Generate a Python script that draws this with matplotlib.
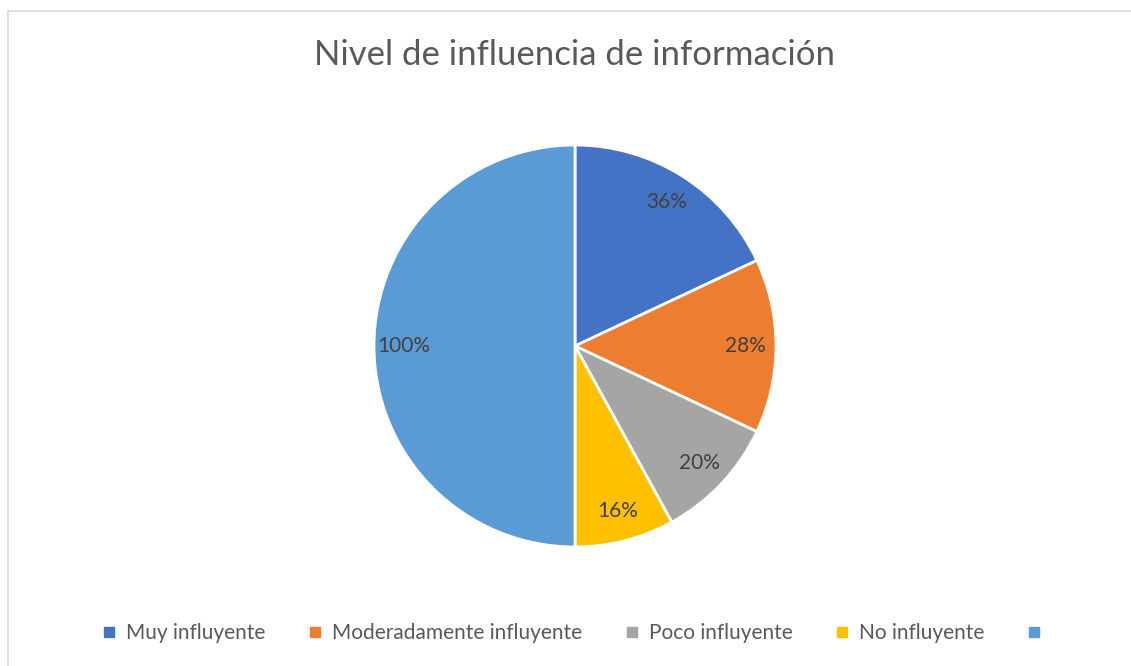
import matplotlib
matplotlib.use("Agg")
import matplotlib.pyplot as plt
from matplotlib.lines import Line2D
from matplotlib.patches import Rectangle

categories = ["Muy influyente", "Moderadamente influyente", "Poco influyente", "No influyente", ""]
values = [36, 28, 20, 16, 100]
labels = ["36%", "28%", "20%", "16%", "100%"]
colors = ["#4472C4", "#ED7D31", "#A5A5A5", "#FFC000", "#5B9BD5"]

plt.rcParams['font.family'] = ['Lato', 'DejaVu Sans']

W, H = 1131, 666
fig = plt.figure(figsize=(W/100, H/100), dpi=100)
fig.patches.append(Rectangle((8/W, -0.1), 1.2, 1 - 11/H + 0.1, transform=fig.transFigure,
                             fill=False, edgecolor="#D9D9D9", linewidth=1.2))

cx, cy, r = 575, 346, 201
ax = fig.add_axes([(cx - r)/W, (H - cy - r)/H, 2*r/W, 2*r/H])
idx = iter(range(len(values)))
wedges, texts, autotexts = ax.pie(values, colors=colors, startangle=90, counterclock=False,
                                  autopct=lambda p: labels[next(idx)], pctdistance=0.85,
                                  wedgeprops=dict(edgecolor="white", linewidth=2),
                                  textprops=dict(color="#404040", fontsize=15))
ax.set_aspect('equal')
ax.set_xlim(-1, 1); ax.set_ylim(-1, 1)

fig.text(575/W, 1 - 55/H, "Nivel de influencia de información", ha="center", va="center",
         fontsize=25, color="#595959")

handles = [Line2D([], [], marker='s', linestyle='', markersize=7, color=c) for c in colors]
fig.legend(handles, categories, loc="center", bbox_to_anchor=(576/W, 1 - 633/H), ncol=5,
           frameon=False, fontsize=15, handlelength=0.8, handletextpad=0.4, columnspacing=2.0,
           labelcolor="#595959")

fig.savefig("out.png", dpi=100)
